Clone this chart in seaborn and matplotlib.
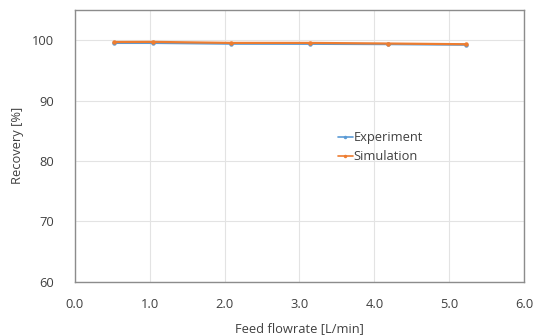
import matplotlib
matplotlib.use("Agg")
import matplotlib.pyplot as plt
import seaborn as sns
import pandas as pd

flow = [0.52, 1.04, 2.09, 3.14, 4.18, 5.23]
experiment = [99.55, 99.55, 99.42, 99.4, 99.35, 99.25]
simulation = [99.7, 99.72, 99.55, 99.55, 99.45, 99.33]
xticks = [0.0, 1.0, 2.0, 3.0, 4.0, 5.0, 6.0]
yticks = [60, 70, 80, 90, 100]

sns.set_theme(style="white")
plt.rcParams['font.family'] = ['Open Sans', 'DejaVu Sans']

df = pd.DataFrame({
    "Feed flowrate": flow * 2,
    "Recovery": experiment + simulation,
    "Series": ["Experiment"] * len(flow) + ["Simulation"] * len(flow),
})

fs = 9.3
fig = plt.figure(figsize=(5.41, 3.36), dpi=100)
ax = fig.add_axes([0.1386, 0.1616, 0.83, 0.8086])
sns.lineplot(data=df, x="Feed flowrate", y="Recovery", hue="Series",
             palette={"Experiment": "#5B9BD5", "Simulation": "#ED7D31"},
             marker="o", markersize=3.2, markeredgewidth=0, linewidth=1.6, ax=ax)

ax.set_xlim(0, 6)
ax.set_ylim(60, 105)
ax.set_xticks(xticks)
ax.set_xticklabels([f"{v:.1f}" for v in xticks], fontsize=fs, color="#404040")
ax.set_yticks(yticks)
ax.set_yticklabels([str(v) for v in yticks], fontsize=fs, color="#404040")
ax.tick_params(axis="x", length=0, pad=12)
ax.tick_params(axis="y", length=0, pad=15)
ax.grid(True, color="#e3e3e3", linewidth=0.8)
ax.set_axisbelow(True)
for s in ax.spines.values():
    s.set_color("#8c8c8c")
    s.set_linewidth(1.0)
ax.set_xlabel("Feed flowrate [L/min]", fontsize=fs, color="#404040", labelpad=8)
ax.set_ylabel("Recovery [%]", fontsize=fs, color="#404040", labelpad=6)

leg = ax.legend(loc="upper left", bbox_to_anchor=(0.575, 0.572), frameon=False,
                fontsize=fs, handlelength=1.1, handletextpad=0.1,
                labelspacing=0.45, borderaxespad=0)
for line in leg.get_lines():
    line.set_linewidth(1.2)
    line.set_markersize(2.5)
for t in leg.get_texts():
    t.set_color("#404040")

fig.savefig("out.png", dpi=100)
